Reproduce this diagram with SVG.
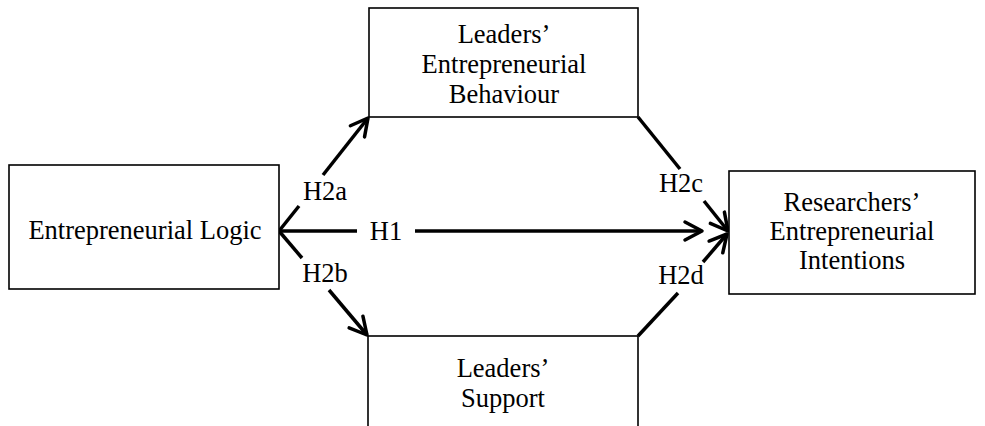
<svg xmlns="http://www.w3.org/2000/svg" width="985" height="426" viewBox="0 0 985 426">
<style>
.box{fill:#fff;stroke:#000;stroke-width:1.6}
.t{font-family:"Liberation Serif","Times New Roman",serif;font-size:26.5px;fill:#000;text-anchor:middle}
.ln{stroke:#000;stroke-width:3.5;fill:none;stroke-linecap:butt}
</style>
<defs>
<marker id="ah" markerUnits="userSpaceOnUse" markerWidth="24" markerHeight="24" viewBox="-20 -12 24 24" refX="0" refY="0" orient="auto">
<path d="M-17,-9 L0,0 L-17,9" fill="none" stroke="#000" stroke-width="3.5" stroke-linejoin="round" stroke-linecap="round"/>
</marker>
</defs>
<g id="connectors">
<line class="ln" x1="279" y1="231" x2="357" y2="231"/>
<line class="ln" x1="415" y1="231" x2="702" y2="231" marker-end="url(#ah)"/>
<line class="ln" x1="279" y1="231" x2="299" y2="206"/>
<line class="ln" x1="323" y1="175" x2="368" y2="118" marker-end="url(#ah)"/>
<line class="ln" x1="279" y1="231" x2="302" y2="258"/>
<line class="ln" x1="329" y1="290" x2="367" y2="335" marker-end="url(#ah)"/>
<line class="ln" x1="638" y1="117" x2="680" y2="169"/>
<line class="ln" x1="704" y1="201" x2="728" y2="231" marker-end="url(#ah)"/>
<line class="ln" x1="638" y1="336" x2="678" y2="293"/>
<line class="ln" x1="703" y1="262" x2="727" y2="234" marker-end="url(#ah)"/>
<text class="t" x="325" y="200">H2a</text>
<text class="t" x="325" y="282">H2b</text>
<text class="t" x="386" y="240">H1</text>
<text class="t" x="681" y="192">H2c</text>
<text class="t" x="681" y="284">H2d</text>
</g>
<g id="logic">
<rect class="box" x="9" y="165" width="270" height="124"/>
<text class="t" x="145" y="239">Entrepreneurial Logic</text>
</g>
<g id="behaviour">
<rect class="box" x="369" y="8" width="269" height="109"/>
<text class="t" x="504" y="43">Leaders’</text>
<text class="t" x="504" y="73">Entrepreneurial</text>
<text class="t" x="504" y="103">Behaviour</text>
</g>
<g id="support">
<rect class="box" x="368" y="336" width="270" height="100"/>
<text class="t" x="503" y="377">Leaders’</text>
<text class="t" x="503" y="407">Support</text>
</g>
<g id="intentions">
<rect class="box" x="729" y="171" width="246" height="123"/>
<text class="t" x="852" y="211">Researchers’</text>
<text class="t" x="852" y="240">Entrepreneurial</text>
<text class="t" x="852" y="269">Intentions</text>
</g>
</svg>
